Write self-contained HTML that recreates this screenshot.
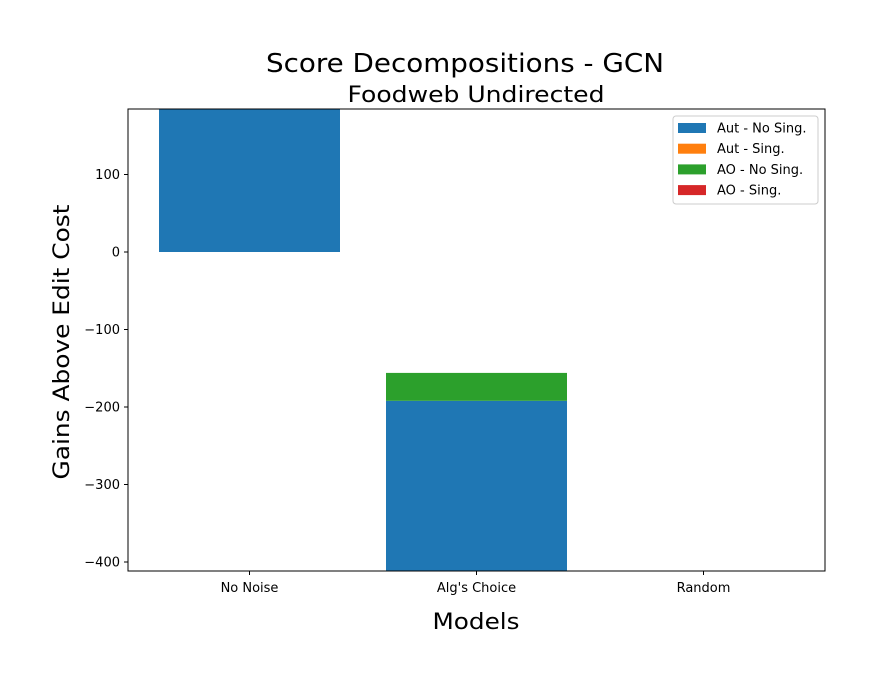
<!DOCTYPE html>
<html><head><meta charset="utf-8"><style>
body{margin:0;background:#fff;}
svg text{font-family:"DejaVu Sans","Liberation Sans",sans-serif;}
</style></head><body>
<svg id="chart" width="875" height="683" xmlns="http://www.w3.org/2000/svg">
<defs><clipPath id="pc"><rect x="128" y="109" width="697" height="462"/></clipPath></defs>
<rect width="875" height="683" fill="#fff"/>
<text x="465" y="72" font-size="26" text-anchor="middle" textLength="398" lengthAdjust="spacingAndGlyphs">Score Decompositions - GCN</text>
<text x="476" y="102" font-size="22" text-anchor="middle" textLength="257" lengthAdjust="spacingAndGlyphs">Foodweb Undirected</text>
<g id="bars" clip-path="url(#pc)"></g>
<g id="axes"></g>
<rect x="128" y="109" width="697" height="462" fill="none" stroke="#000" stroke-width="1"/>
<text x="476" y="629" font-size="22" text-anchor="middle" textLength="87" lengthAdjust="spacingAndGlyphs">Models</text>
<text transform="translate(69,342) rotate(-90)" font-size="22" text-anchor="middle" textLength="275" lengthAdjust="spacingAndGlyphs">Gains Above Edit Cost</text>
<g>
<rect x="673" y="116" width="145" height="88" rx="3" fill="#fff" stroke="#ccc"/>
<g id="legend-items"></g>
</g>
</svg>
<script>
const categories=["No Noise","Alg's Choice","Random"];
const seriesNames=["Aut - No Sing.","Aut - Sing.","AO - No Sing.","AO - Sing."];
const colors=["#1f77b4","#ff7f0e","#2ca02c","#d62728"];
// segment start / end values per series per category
const autNoSingStart=[0,-192,0];
const autNoSingEnd=[250,-600,0];
const autSingStart=[0,-192,0];
const autSingEnd=[0,-192,0];
const aoNoSingStart=[0,-192,0];
const aoNoSingEnd=[0,-156,0];
const aoSingStart=[0,-156,0];
const aoSingEnd=[0,-156,0];
const yTicks=[100,0,-100,-200,-300,-400];

const NS="http://www.w3.org/2000/svg";
const y=v=>252-v*0.775;
const x=i=>249.5+i*227;
const bw=181;
const bars=document.getElementById('bars');
const starts=[autNoSingStart,autSingStart,aoNoSingStart,aoSingStart];
const ends=[autNoSingEnd,autSingEnd,aoNoSingEnd,aoSingEnd];
starts.forEach((s,k)=>{
  categories.forEach((c,i)=>{
    const a=y(s[i]),b=y(ends[k][i]);
    if(Math.abs(a-b)<0.01)return;
    const r=document.createElementNS(NS,'rect');
    r.setAttribute('x',x(i)-bw/2);r.setAttribute('width',bw);
    r.setAttribute('y',Math.min(a,b));r.setAttribute('height',Math.abs(a-b));
    r.setAttribute('fill',colors[k]);
    
    
    bars.appendChild(r);
  });
});
const axes=document.getElementById('axes');
yTicks.forEach(t=>{
  const l=document.createElementNS(NS,'line');
  l.setAttribute('x1',124);l.setAttribute('x2',128);l.setAttribute('y1',y(t));l.setAttribute('y2',y(t));l.setAttribute('stroke','#000');
  
  
  axes.appendChild(l);
  const tx=document.createElementNS(NS,'text');
  tx.setAttribute('x',120);tx.setAttribute('y',y(t)+4.5);tx.setAttribute('font-size','13');tx.setAttribute('text-anchor','end');
  tx.textContent=t===0?'0':(t<0?'\u2212'+(-t):t);
  
  
  axes.appendChild(tx);
});
categories.forEach((c,i)=>{
  const l=document.createElementNS(NS,'line');
  l.setAttribute('x1',x(i));l.setAttribute('x2',x(i));l.setAttribute('y1',571);l.setAttribute('y2',575);l.setAttribute('stroke','#000');
  
  
  axes.appendChild(l);
  const tx=document.createElementNS(NS,'text');
  tx.setAttribute('x',x(i));tx.setAttribute('y',592);tx.setAttribute('font-size','13');tx.setAttribute('text-anchor','middle');
  tx.textContent=c;
  
  
  axes.appendChild(tx);
});
const li=document.getElementById('legend-items');
seriesNames.forEach((n,k)=>{
  const yy=128+k*20.7;
  const r=document.createElementNS(NS,'rect');
  r.setAttribute('x',678);r.setAttribute('y',yy-5);r.setAttribute('width',28);r.setAttribute('height',10);r.setAttribute('fill',colors[k]);
  
  
  li.appendChild(r);
  const t=document.createElementNS(NS,'text');
  t.setAttribute('x',717);t.setAttribute('y',yy+4.5);t.setAttribute('font-size','13');
  t.textContent=n;
  
  
  li.appendChild(t);
});
</script>
</body></html>
